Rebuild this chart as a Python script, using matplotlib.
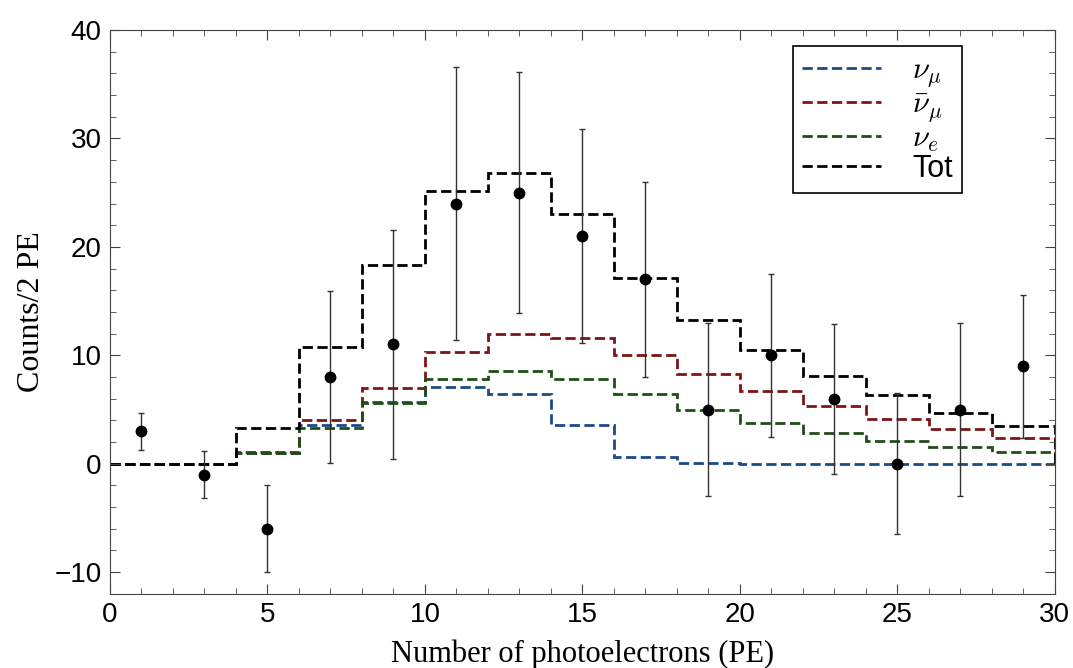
import numpy as np
import matplotlib
import matplotlib.pyplot as plt

matplotlib.rcParams['mathtext.fontset'] = 'cm'

#%% data
edges = np.arange(0, 32, 2)
nu_mu = [0, 0, 1.0, 3.6, 5.7, 7.1, 6.4, 3.6, 0.6, 0.1, 0, 0, 0, 0, 0]
nu_mu_bar = [0, 0, 1.1, 4.0, 7.0, 10.3, 12.0, 11.6, 10.0, 8.3, 6.7, 5.3, 4.1, 3.2, 2.4]
nu_e = [0, 0, 1.0, 3.3, 5.6, 7.8, 8.6, 7.8, 6.4, 5.0, 3.8, 2.8, 2.1, 1.5, 1.1]
tot = [0, 0, 3.3, 10.8, 18.3, 25.2, 26.8, 23.0, 17.1, 13.3, 10.5, 8.1, 6.3, 4.7, 3.5]

x_data = np.arange(1, 31, 2)
y_data = [3, -1, -6, 8, 11, 24, 25, 21, 17, 5, 10, 6, 0, 5, 9]
y_err = [1.7, 2.2, 4.0, 7.9, 10.6, 12.6, 11.1, 9.9, 9.0, 8.0, 7.5, 6.9, 6.5, 8.0, 6.6]

#%% plot
fig = plt.figure(figsize=(10.73, 6.68), dpi=100)
ax = fig.add_axes([0.1025, 0.111, 0.8805, 0.844])

def step(vals, color, label):
    # histogram outline from bin edges
    ax.stairs(vals, edges, color=color, linestyle='--', linewidth=2, label=label)

step(nu_mu, '#1b4a86', r'$\nu_\mu$')
step(nu_mu_bar, '#7f1416', r'$\bar{\nu}_\mu$')
step(nu_e, '#1f4f17', r'$\nu_e$')
step(tot, 'black', 'Tot')

ax.errorbar(x_data, y_data, yerr=y_err, fmt='o', color='black', ecolor='#333333',
            markersize=7.5, elinewidth=1, capsize=2.5, capthick=1)

ax.set_xlim(0, 30)
ax.set_ylim(-12, 40)
ax.set_xticks(np.arange(0, 31, 5))
ax.set_xticks(np.arange(0, 31, 1), minor=True)
ax.set_yticks(np.arange(-10, 41, 10))
ax.set_yticks(np.arange(-12, 41, 2), minor=True)
ax.tick_params(which='both', direction='in', top=True, right=True, color='#444444')
ax.tick_params(which='major', length=7, labelsize=20, pad=6)
ax.tick_params(which='minor', length=4)
for lab in ax.get_xticklabels() + ax.get_yticklabels():
    lab.set_fontfamily('Liberation Sans')
for sp in ax.spines.values():
    sp.set_color('#444444')

ax.set_xlabel('Number of photoelectrons (PE)', fontsize=22, family='Liberation Serif', labelpad=8)
ax.set_ylabel('Counts/2 PE', fontsize=23, family='Liberation Serif', labelpad=6)

leg = ax.legend(loc='upper right', bbox_to_anchor=(0.9016, 0.9716), fontsize=22,
                handlelength=2.6, handletextpad=1.0, fancybox=False,
                edgecolor='black', framealpha=1, borderpad=0.3, labelspacing=0.0,
                borderaxespad=0)
leg.get_frame().set_linewidth(1.2)
for t in leg.get_texts():
    t.set_fontfamily('Liberation Sans')

plt.savefig('out.png')
